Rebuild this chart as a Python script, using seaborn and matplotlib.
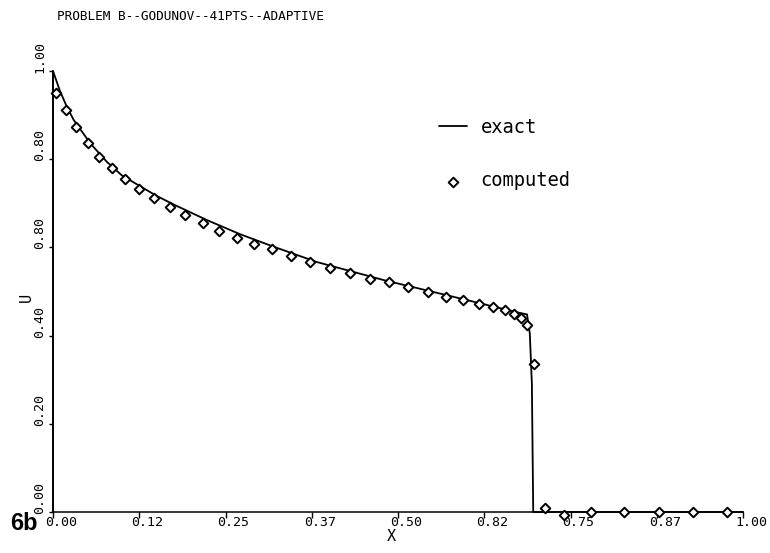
import matplotlib
matplotlib.use("Agg")
import matplotlib.pyplot as plt
import matplotlib.transforms as mtransforms
import numpy as np
import pandas as pd
import seaborn as sns

# ---- data ----
title = "PROBLEM B--GODUNOV--41PTS--ADAPTIVE"

exact_x = [0.0, 0.0, 0.01, 0.02, 0.03, 0.054, 0.078, 0.10, 0.126, 0.15, 0.174,
           0.223, 0.271, 0.319, 0.382, 0.479, 0.575, 0.672, 0.687, 0.691, 0.694, 0.696, 1.0]
exact_y = [0.0, 1.0, 0.955, 0.919, 0.889, 0.836, 0.794, 0.763, 0.739, 0.717, 0.698,
           0.662, 0.630, 0.602, 0.567, 0.526, 0.490, 0.453, 0.448, 0.405, 0.292, 0.0, 0.0]

comp_x = [0.004, 0.019, 0.033, 0.050, 0.066, 0.085, 0.105, 0.125, 0.147, 0.170,
          0.192, 0.217, 0.240, 0.266, 0.291, 0.318, 0.345, 0.373, 0.402, 0.430,
          0.459, 0.487, 0.515, 0.543, 0.570, 0.594, 0.617, 0.638, 0.655, 0.668,
          0.678, 0.687, 0.697, 0.713, 0.740, 0.779, 0.827, 0.878, 0.927, 0.977]
comp_y = [0.951, 0.911, 0.872, 0.837, 0.806, 0.779, 0.755, 0.732, 0.712, 0.691,
          0.674, 0.656, 0.638, 0.621, 0.608, 0.596, 0.580, 0.567, 0.553, 0.541,
          0.529, 0.522, 0.510, 0.500, 0.488, 0.481, 0.471, 0.464, 0.457, 0.449,
          0.440, 0.425, 0.336, 0.008, -0.007, 0.0, 0.0, 0.0, 0.0, 0.0]

xticks = [0.0, 0.125, 0.25, 0.375, 0.5, 0.625, 0.75, 0.875, 1.0]
xticklabels = ["0.00", "0.12", "0.25", "0.37", "0.50", "0.82", "0.75", "0.87", "1.00"]
yticks = [0.0, 0.2, 0.4, 0.6, 0.8, 1.0]
yticklabels = ["0.00", "0.20", "0.40", "0.80", "0.80", "1.00"]

# ---- style ----
sns.set_style("ticks")
MONO = ["DejaVu Sans Mono"]
plt.rcParams["font.family"] = MONO
plt.rcParams["text.color"] = "black"
plt.rcParams["axes.labelcolor"] = "black"
plt.rcParams["xtick.color"] = "black"
plt.rcParams["ytick.color"] = "black"

fig = plt.figure(figsize=(7.7, 5.53), dpi=100)
ax = fig.add_axes([53 / 770, 41 / 553, 690 / 770, 441 / 553])

df_exact = pd.DataFrame({"x": exact_x, "y": exact_y})
df_comp = pd.DataFrame({"x": comp_x, "y": comp_y})

sns.lineplot(data=df_exact, x="x", y="y", sort=False, estimator=None,
             color="black", linewidth=1.3, label="exact", ax=ax, clip_on=False)
sns.scatterplot(data=df_comp, x="x", y="y", marker="D", s=24,
                facecolor="white", edgecolor="black", linewidth=1.4,
                label="computed", ax=ax, clip_on=False, zorder=3)

ax.set_xlim(0, 1)
ax.set_ylim(0, 1)
sns.despine(ax=ax)
for s in ("left", "bottom"):
    ax.spines[s].set_linewidth(1.1)
    ax.spines[s].set_color("black")

ax.set_xticks(xticks)
ax.set_xticklabels(xticklabels, fontsize=9.5, ha="left")
ax.set_yticks(yticks)
ax.set_yticklabels(yticklabels, fontsize=9.5, rotation=90, va="bottom", ha="right")
ax.tick_params(axis="x", direction="out", length=4, width=1, pad=-1)
ax.tick_params(axis="y", direction="out", length=3, width=1, pad=2)

for lab in ax.get_xticklabels():
    lab.set_transform(lab.get_transform() +
                      mtransforms.ScaledTranslation(-8 / 100, 0, fig.dpi_scale_trans))
for lab in ax.get_yticklabels():
    lab.set_transform(lab.get_transform() +
                      mtransforms.ScaledTranslation(0, -2 / 100, fig.dpi_scale_trans))

ax.set_xlabel("X", fontsize=11)
ax.xaxis.set_label_coords(0.49, -0.038)
ax.set_ylabel("U", fontsize=11)
ax.yaxis.set_label_coords(-0.028, 0.487)

leg = ax.legend(frameon=False, loc="upper left", bbox_to_anchor=(0.560, 0.894),
                prop={"family": MONO, "size": 13.5}, handlelength=1.45,
                handletextpad=0.75, labelspacing=1.85, borderpad=0, borderaxespad=0)

fig.text(57 / 770, 1 - 17 / 553, title, fontsize=9.2, ha="left", va="center",
         family=MONO)
fig.text(10 / 770, 1 - 530 / 553, "6b", fontsize=17, fontweight="bold",
         family=["Liberation Sans", "DejaVu Sans"], ha="left", va="baseline")

fig.savefig("out.png", dpi=100)
